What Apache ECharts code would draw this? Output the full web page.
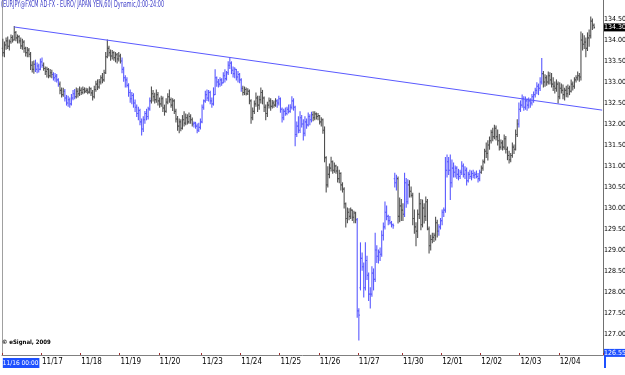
<!DOCTYPE html>
<html>
<head>
<meta charset="utf-8">
<script src="https://cdn.jsdelivr.net/npm/echarts@6/dist/echarts.min.js"></script>
<style>
html,body{margin:0;padding:0;background:#fff;}
#chart{width:625px;height:375px;}
</style>
</head>
<body>
<div id="chart"></div>
<script>
// ---- data (hourly EUR/JPY bars, 11/16 - 12/04) ----
var dayLabels = ['11/16 00:00','11/17','11/18','11/19','11/20','11/23','11/24','11/25','11/26','11/27','11/30','12/01','12/02','12/03','12/04'];
var dayBars   = [24,24,24,24,26,24,24,24,24,27,24,24,24,24,22];

var open = [
133.80,133.70,133.88,133.98,133.85,133.96,134.06,134.00,134.18,134.05,134.08,133.98,133.86,133.95,133.80,133.70,133.76,133.66,133.40,133.30,133.42,133.30,133.38,133.30,
133.48,133.40,133.32,133.25,133.30,133.15,133.22,133.18,133.10,133.14,133.05,132.95,132.80,132.70,132.78,132.62,132.50,132.58,132.48,132.62,132.72,132.65,132.78,132.72,
132.80,132.75,132.82,132.78,132.80,132.76,132.84,132.74,132.65,132.82,132.95,132.88,133.00,133.10,133.05,133.22,133.60,133.80,133.70,133.62,133.70,133.58,133.65,133.55,
133.62,133.50,133.30,133.10,133.05,132.92,132.75,132.60,132.68,132.50,132.40,132.25,132.32,132.05,131.88,132.10,132.25,132.18,132.36,132.55,132.72,132.65,132.58,132.70,
132.55,132.48,132.60,132.38,132.30,132.52,132.65,132.58,132.45,132.55,132.30,132.12,131.95,132.05,131.90,132.10,132.02,132.15,132.05,132.18,132.10,132.00,132.02,131.95,131.85,131.92,
132.05,132.40,132.55,132.70,132.62,132.75,132.55,132.48,132.70,133.10,133.00,132.95,133.05,132.98,133.15,133.08,133.22,133.40,133.45,133.28,133.20,133.30,133.12,133.18,
133.05,132.85,132.75,132.82,132.72,132.78,132.55,132.15,132.30,132.48,132.62,132.45,132.58,132.75,132.62,132.40,132.25,132.45,132.55,132.42,132.50,132.45,132.55,132.50,
132.60,132.35,132.15,132.30,132.25,132.35,132.30,132.40,132.55,132.40,131.75,131.95,131.85,132.15,132.00,131.78,132.05,131.98,132.18,132.10,132.22,132.15,132.24,132.18,
132.20,132.05,132.10,131.85,131.20,130.55,130.80,130.95,131.10,130.90,131.00,130.88,130.70,130.82,130.55,130.45,130.10,129.75,129.90,129.80,129.95,129.78,129.88,129.72,
127.55,128.10,128.80,128.60,128.10,128.75,128.40,127.95,127.95,128.45,128.30,129.00,128.85,128.95,128.90,129.35,129.55,129.90,129.80,129.70,129.65,129.60,130.70,130.60,130.70,129.80,130.05,
129.95,129.85,130.60,130.15,130.55,130.40,130.30,129.75,129.55,129.45,129.85,130.10,129.60,130.00,129.80,130.15,129.50,129.10,129.25,129.30,129.35,129.65,129.45,129.55,
129.70,129.90,129.95,130.90,131.10,130.90,130.60,130.95,130.85,130.95,130.80,130.75,130.85,131.00,130.80,130.90,130.65,130.80,130.75,130.82,130.78,130.80,130.75,130.70,
130.85,130.95,131.10,131.35,131.30,131.50,131.60,131.80,131.70,131.90,131.70,131.60,131.45,131.55,131.45,131.65,131.40,131.25,131.15,131.25,131.45,131.40,131.75,132.00,
132.35,132.45,132.60,132.40,132.55,132.45,132.55,132.50,132.65,132.70,132.80,132.90,132.85,133.00,133.20,133.00,133.10,133.00,133.15,133.05,132.95,132.90,132.85,132.95,
132.65,132.85,132.80,132.70,132.80,132.72,132.85,132.78,132.95,132.90,133.05,133.10,133.15,133.12,134.00,133.90,133.95,133.80,134.05,134.10,134.45,134.35
];
var high = [
134.02,133.95,134.05,134.07,134.00,134.12,134.10,134.32,134.20,134.12,134.10,134.05,134.02,133.98,133.83,133.82,133.80,133.70,133.48,133.50,133.52,133.45,133.42,133.55,
133.57,133.45,133.36,133.35,133.32,133.30,133.28,133.22,133.20,133.18,133.08,133.00,132.86,132.85,132.82,132.68,132.66,132.62,132.70,132.80,132.82,132.86,132.84,132.88,
132.86,132.88,132.86,132.85,132.84,132.88,132.86,132.80,132.90,133.02,133.05,133.06,133.15,133.20,133.28,133.70,134.00,133.85,133.76,133.75,133.72,133.70,133.68,133.70,
133.66,133.57,133.35,133.15,133.10,132.96,132.81,132.75,132.72,132.57,132.45,132.40,132.35,132.12,132.17,132.30,132.35,132.40,132.62,132.88,132.80,132.73,132.81,132.75,
132.62,132.66,132.64,132.45,132.60,132.72,132.81,132.62,132.60,132.58,132.35,132.18,132.12,132.10,132.20,132.29,132.24,132.22,132.26,132.22,132.14,132.05,132.04,132.00,132.02,132.12,
132.45,132.57,132.78,132.81,132.80,132.78,132.62,132.86,133.29,133.12,133.06,133.10,133.08,133.22,133.29,133.25,133.48,133.57,133.48,133.36,133.34,133.30,133.25,133.20,
133.08,132.90,132.88,132.86,132.84,132.81,132.58,132.38,132.55,132.74,132.66,132.66,132.86,132.80,132.64,132.45,132.52,132.62,132.60,132.56,132.55,132.60,132.58,132.66,
132.62,132.38,132.35,132.38,132.40,132.45,132.46,132.65,132.60,132.42,132.05,132.17,132.29,132.20,132.10,132.17,132.12,132.26,132.22,132.28,132.29,132.29,132.26,132.25,
132.20,132.15,132.12,131.93,131.22,130.98,131.05,131.21,131.12,131.07,131.02,130.98,130.90,130.84,130.60,130.48,130.12,130.00,129.98,130.00,129.95,129.92,129.90,129.75,
127.60,129.17,128.93,128.69,129.17,128.85,128.45,128.10,128.60,128.55,129.40,129.10,129.00,129.05,129.45,129.64,130.14,130.05,129.83,129.80,129.68,129.62,130.83,130.78,130.74,130.24,130.20,
130.10,130.83,130.70,130.67,130.65,130.50,130.35,129.95,129.65,129.95,130.35,130.20,130.19,130.10,130.26,130.20,129.55,129.35,129.40,129.40,129.78,129.71,129.60,129.75,
129.95,130.00,131.20,131.26,131.20,131.26,131.14,131.07,131.00,130.98,130.92,130.90,131.10,131.05,130.98,130.95,130.85,130.90,130.88,130.90,130.85,130.88,130.82,130.90,
131.00,131.14,131.40,131.55,131.60,131.69,131.85,131.90,131.97,131.95,131.86,131.75,131.62,131.60,131.74,131.70,131.45,131.35,131.30,131.55,131.50,131.86,132.10,132.50,
132.55,132.69,132.65,132.64,132.60,132.62,132.60,132.70,132.76,132.85,132.98,132.95,133.10,133.56,133.25,133.17,133.15,133.24,133.22,133.20,133.10,133.00,133.05,133.00,
132.98,132.95,132.93,132.85,132.90,132.93,132.90,133.05,133.00,133.10,133.15,133.24,133.20,134.19,134.15,134.10,134.05,134.17,134.24,134.55,134.50,134.38
];
var low = [
133.62,133.60,133.78,133.80,133.76,133.92,133.95,134.00,133.98,133.93,133.93,133.80,133.78,133.71,133.62,133.60,133.60,133.30,133.24,133.21,133.25,133.22,133.24,133.29,
133.35,133.28,133.18,133.12,133.10,133.12,133.10,133.05,133.02,133.00,132.90,132.72,132.64,132.66,132.55,132.45,132.42,132.40,132.45,132.58,132.60,132.62,132.64,132.68,
132.70,132.72,132.74,132.75,132.72,132.74,132.68,132.57,132.62,132.78,132.82,132.85,132.95,132.98,133.02,133.20,133.58,133.62,133.52,133.55,133.52,133.48,133.45,133.50,
133.45,133.22,133.02,132.88,132.88,132.66,132.52,132.48,132.40,132.30,132.18,132.10,131.98,131.74,131.82,132.02,132.10,132.12,132.33,132.50,132.55,132.50,132.52,132.45,
132.40,132.42,132.30,132.21,132.28,132.48,132.52,132.40,132.32,132.25,132.05,131.85,131.79,131.84,131.88,131.95,131.98,132.00,132.02,132.02,131.95,131.93,131.90,131.79,131.82,131.88,
132.03,132.35,132.52,132.56,132.55,132.48,132.40,132.45,132.70,132.90,132.88,132.90,132.92,132.98,133.00,133.05,133.18,133.32,133.20,133.12,133.10,133.05,133.00,132.98,
132.78,132.69,132.70,132.69,132.70,132.48,132.02,132.10,132.25,132.42,132.30,132.35,132.50,132.48,132.30,132.10,132.18,132.38,132.33,132.38,132.40,132.42,132.40,132.45,
132.28,132.05,132.10,132.21,132.22,132.26,132.28,132.36,132.33,131.48,131.70,131.79,131.80,131.93,131.62,131.72,131.90,131.95,131.98,132.05,132.08,132.10,132.12,132.10,
132.00,131.95,131.78,131.10,130.38,130.50,130.72,130.88,130.83,130.85,130.83,130.62,130.60,130.43,130.38,130.00,129.55,129.65,129.72,129.75,129.70,129.65,129.65,127.40,
126.86,128.05,128.52,127.88,128.05,128.30,127.80,127.62,127.90,128.05,128.25,128.70,128.69,128.75,128.85,129.24,129.50,129.72,129.60,129.62,129.55,129.52,130.50,130.43,129.64,129.67,129.70,
129.70,129.80,130.02,130.10,130.26,130.26,129.60,129.40,129.10,129.30,129.75,129.48,129.55,129.64,129.70,129.48,128.93,129.00,129.17,129.20,129.24,129.31,129.35,129.50,
129.60,129.80,129.90,130.74,130.80,130.20,130.50,130.74,130.74,130.70,130.67,130.70,130.80,130.74,130.70,130.55,130.62,130.70,130.67,130.72,130.71,130.72,130.62,130.65,
130.83,130.90,131.07,131.20,131.14,131.40,131.55,131.60,131.65,131.62,131.50,131.38,131.40,131.38,131.40,131.31,131.15,131.07,131.10,131.21,131.30,131.38,131.70,131.93,
132.30,132.40,132.33,132.35,132.33,132.38,132.40,132.45,132.52,132.64,132.72,132.70,132.80,132.95,132.88,132.90,132.92,132.95,132.95,132.88,132.80,132.74,132.78,132.50,
132.60,132.74,132.60,132.57,132.65,132.64,132.70,132.76,132.81,132.85,133.00,133.05,133.02,133.05,133.76,133.80,133.60,133.75,133.85,134.05,134.25,134.28
];
var close = [
133.70,133.88,133.98,133.85,133.96,134.06,134.00,134.18,134.05,134.08,133.98,133.86,133.95,133.80,133.70,133.76,133.66,133.40,133.30,133.42,133.30,133.38,133.30,133.48,
133.40,133.32,133.25,133.30,133.15,133.22,133.18,133.10,133.14,133.05,132.95,132.80,132.70,132.78,132.62,132.50,132.58,132.48,132.62,132.72,132.65,132.78,132.72,132.80,
132.75,132.82,132.78,132.80,132.76,132.84,132.74,132.65,132.82,132.95,132.88,133.00,133.10,133.05,133.22,133.60,133.80,133.70,133.62,133.70,133.58,133.65,133.55,133.62,
133.50,133.30,133.10,133.05,132.92,132.75,132.60,132.68,132.50,132.40,132.25,132.32,132.05,131.88,132.10,132.25,132.18,132.36,132.55,132.72,132.65,132.58,132.70,132.55,
132.48,132.60,132.38,132.30,132.52,132.65,132.58,132.45,132.55,132.30,132.12,131.95,132.05,131.90,132.10,132.02,132.15,132.05,132.18,132.10,132.00,132.02,131.95,131.85,131.92,132.05,
132.40,132.55,132.70,132.62,132.75,132.55,132.48,132.70,133.10,133.00,132.95,133.05,132.98,133.15,133.08,133.22,133.40,133.45,133.28,133.20,133.30,133.12,133.18,133.05,
132.85,132.75,132.82,132.72,132.78,132.55,132.15,132.30,132.48,132.62,132.45,132.58,132.75,132.62,132.40,132.25,132.45,132.55,132.42,132.50,132.45,132.55,132.50,132.60,
132.35,132.15,132.30,132.25,132.35,132.30,132.40,132.55,132.40,131.75,131.95,131.85,132.15,132.00,131.78,132.05,131.98,132.18,132.10,132.22,132.15,132.24,132.18,132.20,
132.05,132.10,131.85,131.20,130.55,130.80,130.95,131.10,130.90,131.00,130.88,130.70,130.82,130.55,130.45,130.10,129.75,129.90,129.80,129.95,129.78,129.88,129.72,127.55,
127.45,128.80,128.60,128.10,128.75,128.40,127.95,127.95,128.45,128.30,129.00,128.85,128.95,128.90,129.35,129.55,129.90,129.80,129.70,129.65,129.60,129.58,130.60,130.70,129.80,130.05,129.95,
129.85,130.60,130.15,130.55,130.40,130.30,129.75,129.55,129.45,129.85,130.10,129.60,130.00,129.80,130.15,129.50,129.10,129.25,129.30,129.35,129.65,129.45,129.55,129.70,
129.90,129.95,130.90,131.10,130.90,130.60,130.95,130.85,130.95,130.80,130.75,130.85,131.00,130.80,130.90,130.65,130.80,130.75,130.82,130.78,130.80,130.75,130.70,130.85,
130.95,131.10,131.35,131.30,131.50,131.60,131.80,131.70,131.90,131.70,131.60,131.45,131.55,131.45,131.65,131.40,131.25,131.15,131.25,131.45,131.40,131.75,132.00,132.35,
132.45,132.60,132.40,132.55,132.45,132.55,132.50,132.65,132.70,132.80,132.90,132.85,133.00,133.20,133.00,133.10,133.00,133.15,133.05,132.95,132.90,132.85,132.95,132.65,
132.85,132.80,132.70,132.80,132.72,132.85,132.78,132.95,132.90,133.05,133.10,133.15,133.12,134.00,133.90,133.95,133.80,134.05,134.10,134.45,134.35,134.30
];
// bar index ranges drawn in blue (the rest are dark grey)
var blueRuns = [[20,24],[31,34],[38,44],[73,90],[117,146],[168,189],[217,241],[246,248],[267,292],[316,330]];
// trend line through the highs: [bar index, price]
var trendStart = [7, 134.31];
var trendEnd   = [367, 132.33];
var yTicks = [127,127.5,128,128.5,129,129.5,130,130.5,131,131.5,132,132.5,133,133.5,134,134.5];
var lastPrice = 134.30;
var lowMark = 126.55;
var padBars = 5;
var titleText = '(EURJPY@FXCM AD-FX - EURO/ JAPAN YEN,60) Dynamic,0:00-24:00';

// ---- build ----
var cats = [];
dayLabels.forEach(function(d, k){
  for (var h = 0; h < dayBars[k]; h++) cats.push(h === 0 ? d : '');
});
for (var p = 0; p < padBars; p++) cats.push('');
function isBlue(i){
  for (var r = 0; r < blueRuns.length; r++) if (i >= blueRuns[r][0] && i <= blueRuns[r][1]) return 1;
  return 0;
}
var bars = close.map(function(c, i){ return [i, open[i], high[i], low[i], c, isBlue(i)]; });

var BLUE = '#5a5aff', GRAY = '#505050', CLEAR = 'rgba(0,0,0,0)';
var FONT = "'Liberation Sans Narrow','DejaVu Sans Condensed','Liberation Sans',sans-serif";
var YMIN = 126.5, YMAX = 126.5 + 355/42;

var chart = echarts.init(document.getElementById('chart'), null, {renderer:'canvas'});
chart.setOption({
  animation:false,
  backgroundColor:'#fff',
  graphic:[
    {type:'text', left:1, top:1, scaleX:0.68, z:10,
     style:{text:titleText, fill:'#3c3cc8', font:'8px ' + FONT}},
    {type:'text', left:2, top:339, z:10,
     style:{text:'© eSignal, 2009', fill:'#000', font:'bold 6px ' + FONT}},
    {type:'rect', right:19, bottom:7, z:10, shape:{width:2, height:13}, style:{fill:'#1e50ff'}}
  ],
  grid:{left:2, right:22, top:0, bottom:20, outerBoundsMode:'none', containLabel:false},
  xAxis:{
    type:'category', data:cats, boundaryGap:true,
    axisLine:{show:true, lineStyle:{color:'#808080', width:1}},
    axisTick:{show:true, inside:true, length:2, lineStyle:{color:'#a03030'},
      interval:function(i, v){ return v !== ''; }},
    axisLabel:{
      interval:function(i, v){ return v !== ''; },
      showMinLabel:true, hideOverlap:false,
      align:'left', margin:3, fontSize:8, color:'#000', fontFamily:FONT,
      formatter:function(v, i){ return i === 0 ? '{hl|' + v + '}' : v; },
      rich:{hl:{backgroundColor:'#1e50ff', color:'#fff', fontSize:6.5, fontFamily:FONT, padding:[2,1,1,0]}}
    },
    splitLine:{show:false}
  },
  yAxis:[{
    type:'value', position:'right', min:YMIN, max:YMAX, interval:0.5,
    axisLine:{show:true, lineStyle:{color:'#707070'}},
    axisTick:{show:false},
    splitLine:{show:false},
    axisLabel:{margin:1, fontSize:7, color:'#000', fontFamily:FONT, align:'left',
      showMinLabel:false, showMaxLabel:false,
      formatter:function(v){ return yTicks.indexOf(Math.round(v*100)/100) >= 0 ? v.toFixed(2) : ''; }}
  },{
    type:'value', position:'left', min:YMIN, max:YMAX,
    axisLine:{show:true, lineStyle:{color:'#a0a0a0'}},
    axisTick:{show:false}, axisLabel:{show:false}, splitLine:{show:false}
  }],
  series:[{
    type:'custom',
    data:bars,
    encode:{x:0, y:[2,3]},
    renderItem:function(params, api){
      var i = api.value(0);
      var pO = api.coord([i, api.value(1)]);
      var pH = api.coord([i, api.value(2)]);
      var pL = api.coord([i, api.value(3)]);
      var pC = api.coord([i, api.value(4)]);
      var x = pO[0];
      var col = api.value(5) ? BLUE : GRAY;
      var st = {stroke:col, lineWidth:1.1};
      return {type:'group', children:[
        {type:'line', shape:{x1:x, y1:pH[1]-0.5, x2:x, y2:pL[1]+0.5}, style:st},
        {type:'line', shape:{x1:x-1, y1:pO[1], x2:x, y2:pO[1]}, style:st},
        {type:'line', shape:{x1:x, y1:pC[1], x2:x+1, y2:pC[1]}, style:st}
      ]};
    }
  },{
    type:'line',
    data:close,
    showSymbol:false, symbol:'none', silent:true,
    lineStyle:{color:CLEAR, width:0}, clip:false,
    markLine:{
      silent:true, symbol:['none','none'], animation:false,
      data:[
        [{coord:trendStart, lineStyle:{color:'#5a5aff', width:1, type:'solid'}, label:{show:false}},
         {coord:trendEnd}],
        {yAxis:lastPrice, lineStyle:{color:CLEAR, width:1},
         label:{show:true, position:'end', distance:1, formatter:lastPrice.toFixed(2),
                backgroundColor:'#000', color:'#fff', fontSize:7, fontFamily:FONT, padding:[1,1,0,0]}},
        {yAxis:lowMark, lineStyle:{color:CLEAR, width:1},
         label:{show:true, position:'end', distance:1, formatter:lowMark.toFixed(2),
                backgroundColor:'#1e50ff', color:'#fff', fontSize:7, fontFamily:FONT, padding:[1,1,0,0]}}
      ]
    }
  }]
});
</script>
</body>
</html>
